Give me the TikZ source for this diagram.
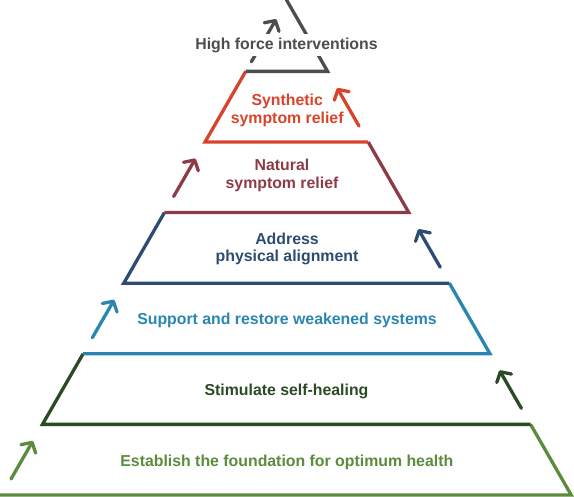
\documentclass[tikz,border=0pt]{standalone}
\usepackage{fontspec}
\setmainfont{Liberation Sans}
\usetikzlibrary{arrows.meta,calc}
\definecolor{cgray}{HTML}{4D4D4D}
\definecolor{cred}{HTML}{D8432B}
\definecolor{cmaroon}{HTML}{8D3B47}
\definecolor{cnavy}{HTML}{2D4B73}
\definecolor{cblue}{HTML}{2986B0}
\definecolor{cdkgreen}{HTML}{2B4B25}
\definecolor{cgreen}{HTML}{5B8B3C}
\begin{document}
\begin{tikzpicture}[x=1pt,y=-1pt,
  edge/.style={line width=3.3pt, line join=miter},
  uparrow/.style={line width=3.3pt, line cap=round,
    -{Straight Barb[length=7.5pt,width=17pt,line cap=round,line join=round]}},
  lbl/.style={font=\fontsize{15.85}{17.5}\selectfont\bfseries, align=center, anchor=base, inner sep=0pt}]
\useasboundingbox (0,0) rectangle (574,497);
% corners
\coordinate (B0) at (0,495);
\coordinate (L0) at (1.8,495);      \coordinate (R0) at (571.2,495);
\coordinate (L1) at (42.45,424.4);  \coordinate (R1) at (530.6,424.4);
\coordinate (L2) at (83.1,353.8);   \coordinate (R2) at (490,353.8);
\coordinate (L3) at (123.75,283.2); \coordinate (R3) at (449.4,283.2);
\coordinate (L4) at (164.4,212.6);  \coordinate (R4) at (408.8,212.6);
\coordinate (L5) at (205.05,142);   \coordinate (R5) at (368.2,142);
\coordinate (L6) at (245.7,71.4);   \coordinate (R6) at (327.6,71.4);
\coordinate (AP) at (287,0.8);
\coordinate (TOP) at (285.4,-2);
% layer outlines
\draw[edge,cgreen]   (B0) -- (R0) -- (R1);
\draw[edge,cdkgreen] (R1) -- (L1) -- (L2);
\draw[edge,cblue]    (L2) -- (R2) -- (R3);
\draw[edge,cnavy]    (R3) -- (L3) -- (L4);
\draw[edge,cmaroon]  (L4) -- (R4) -- (R5);
\draw[edge,cred]     (R5) -- (L5) -- (L6);
\draw[edge,cgray]    (L6) -- (R6) -- (TOP);
% arrows
\draw[uparrow,cgreen]   ($(L0)!0.227!(L1)$) -- ($(L0)!0.765!(L1)$);
\draw[uparrow,cdkgreen] ($(R1)!0.227!(R2)$) -- ($(R1)!0.765!(R2)$);
\draw[uparrow,cblue]    ($(L2)!0.227!(L3)$) -- ($(L2)!0.765!(L3)$);
\draw[uparrow,cnavy]    ($(R3)!0.227!(R4)$) -- ($(R3)!0.765!(R4)$);
\draw[uparrow,cmaroon]  ($(L4)!0.227!(L5)$) -- ($(L4)!0.765!(L5)$);
\draw[uparrow,cred]     ($(R5)!0.227!(R6)$) -- ($(R5)!0.765!(R6)$);
\draw[uparrow,cgray]    ($(L6)!0.137!(AP)$) -- ($(L6)!0.74!(AP)$);
% labels (anchor base = baseline of the last line)
\node[lbl,cgray,fill=white,inner xsep=4pt,inner ysep=3.5pt] (t7) at (286.5,49.3) {High force interventions};
\node[lbl,cred]     (t6) at (287.2,123.3) {Synthetic\\symptom relief};
\node[lbl,cmaroon]  (t5) at (282,188.3)   {Natural\\symptom relief};
\node[lbl,cnavy]    (t4) at (287,261.7)   {Address\\physical alignment};
\node[lbl,cblue]    (t3) at (287,325)     {Support and restore weakened systems};
\node[lbl,cdkgreen] (t2) at (286.5,396)   {Stimulate self-healing};
\node[lbl,cgreen]   (t1) at (286.8,467)   {Establish the foundation for optimum health};
\end{tikzpicture}
\end{document}
